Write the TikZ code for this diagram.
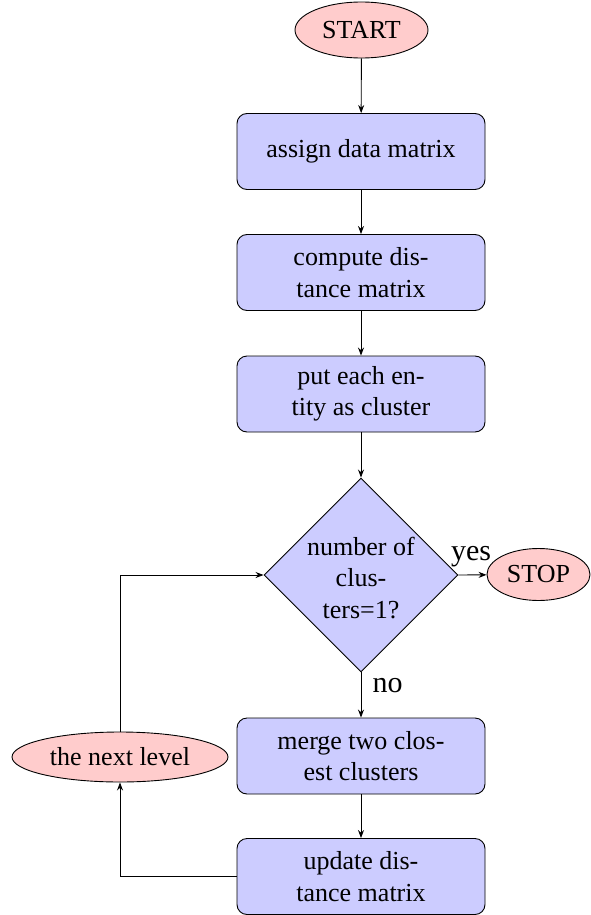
\documentclass[tikz,border=0pt]{standalone}
\usepackage{fontspec}
\setmainfont{Liberation Serif}
\usetikzlibrary{shapes.geometric,arrows.meta}
\begin{document}
\begin{tikzpicture}[x=1pt,y=-1pt,line width=0.9pt,
  txt/.style={font=\fontsize{26}{31.5}\selectfont},
  box/.style={txt,draw,fill=blue!20,rounded corners=10pt,minimum width=248pt,minimum height=76pt,align=center,inner sep=0pt},
  term/.style={txt,draw,fill=red!20,ellipse,inner sep=0pt},
  lbl/.style={font=\fontsize{30}{36}\selectfont,anchor=base,inner sep=0pt},
  arr/.style={-{Stealth[length=8pt,width=6pt]}}]
\useasboundingbox (0,0) rectangle (590,915);
\node[term,minimum width=133pt,minimum height=56pt] (start) at (361.5,30) {START};
\node[box] (assign) at (361,151.5) {assign data matrix};
\node[box] (compute) at (361,272.5) {compute dis-\\tance matrix};
\node[box] (put) at (361,394) {put each en-\\tity as cluster};
\node[draw,fill=blue!20,diamond,aspect=1,inner sep=0pt,minimum width=194pt,minimum height=194pt] (dec) at (361,575) {};
\node[txt,align=center] (dectext) at (361,578) {number of\\clus-\\ters=1?};
\node[term,minimum width=103pt,minimum height=52pt] (stop) at (538.5,574.5) {STOP};
\node[box] (merge) at (361,756) {merge two clos-\\est clusters};
\node[box] (update) at (361,876.5) {update dis-\\tance matrix};
\node[term,minimum width=216pt,minimum height=50pt] (next) at (120,757) {the next level};
\node[lbl] (yes) at (471,560) {yes};
\node[lbl] (no) at (387.5,692) {no};
\draw[arr] (start) -- (assign);
\draw[arr] (assign) -- (compute);
\draw[arr] (compute) -- (put);
\draw[arr] (put) -- (dec);
\draw[arr] (dec.east) -- (stop);
\draw[arr] (dec.south) -- (merge);
\draw[arr] (merge) -- (update);
\draw[arr] (update.west) -| (next.south);
\draw[arr] (next.north) |- (dec.west);
\end{tikzpicture}
\end{document}
